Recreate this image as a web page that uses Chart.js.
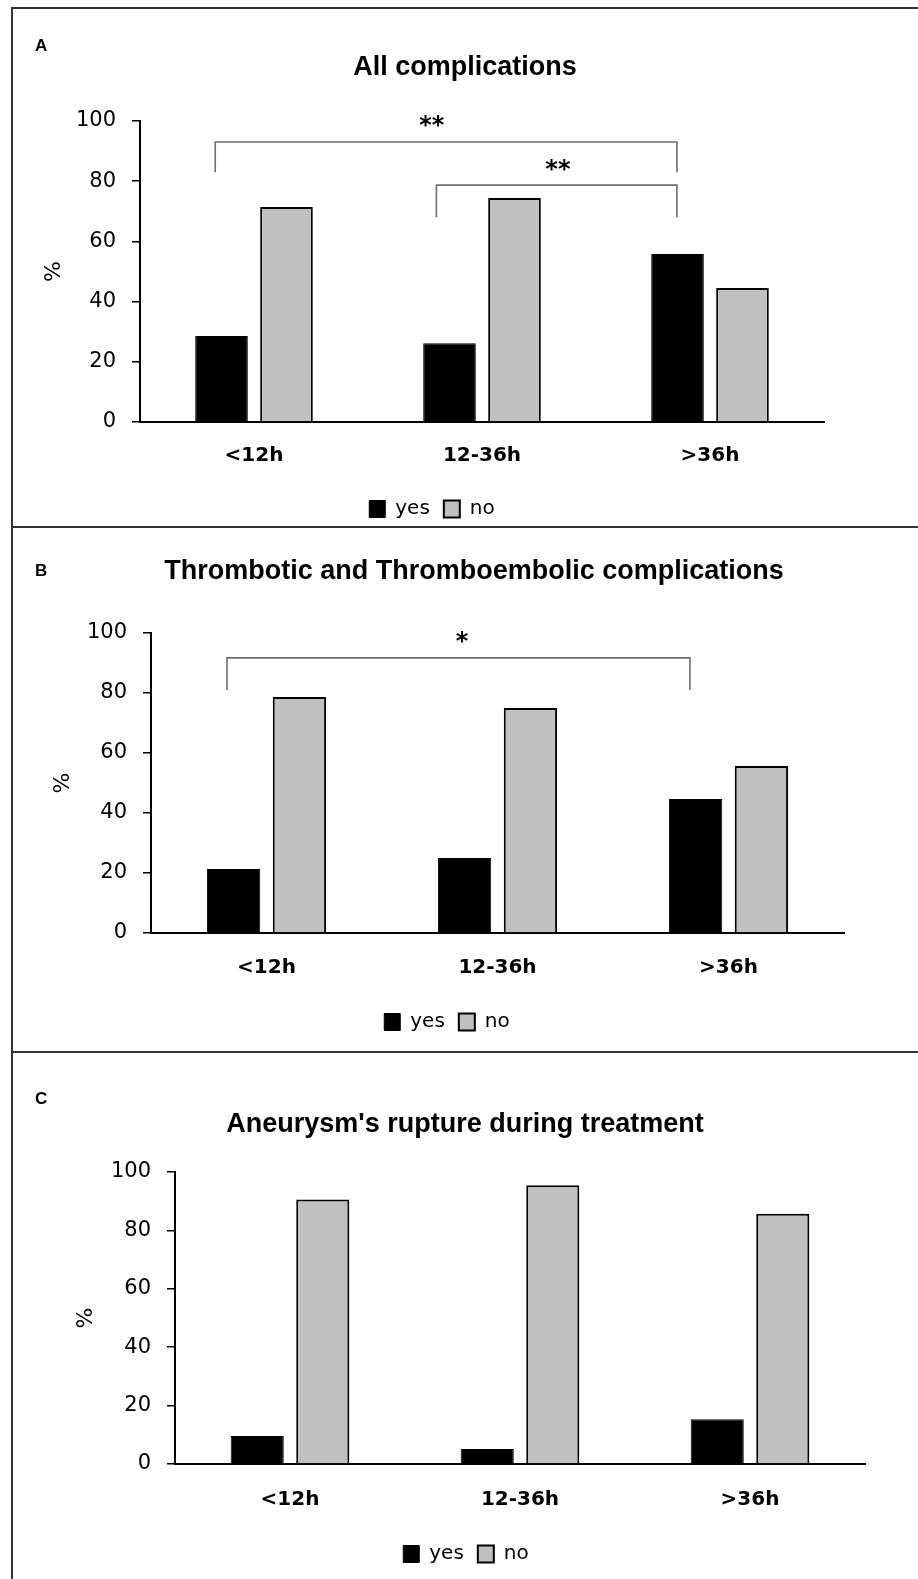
<!DOCTYPE html>
<html><head><meta charset="utf-8">
<script src="https://cdn.jsdelivr.net/npm/chart.js@4.4.0/dist/chart.umd.min.js"></script>
<style>
html,body{margin:0;padding:0;background:#fff;}
#wrap{position:relative;width:918px;height:1579px;overflow:hidden;background:#fff;}
#wrap canvas{position:absolute;left:0;}
.hl{position:absolute;left:12px;width:906px;height:2px;background:#333;}
.vl{position:absolute;left:11px;width:2px;top:7px;height:1572px;background:#333;}
</style></head><body>
<div id="wrap">
<canvas id="cA" width="918" height="530" style="top:0px"></canvas>
<canvas id="cB" width="918" height="524" style="top:528px"></canvas>
<canvas id="cC" width="918" height="527" style="top:1052px"></canvas>
<div class="hl" style="top:7px"></div>
<div class="hl" style="top:526px"></div>
<div class="hl" style="top:1051px"></div>
<div class="vl"></div>
</div>
<script>
// ---- data ----
const categories = ['<12h', '12-36h', '>36h'];
const seriesLabels = ['yes', 'no'];
const yTickValues = [0, 20, 40, 60, 80, 100];

const yesA = [28.6, 26.2, 55.8];
const noA  = [71.4, 74.4, 44.5];
const yesB = [21.3, 25.0, 44.7];
const noB  = [78.7, 75.0, 55.7];
const yesC = [9.6, 5.1, 15.3];
const noC  = [90.6, 95.5, 85.7];

const panelLetters = ['A', 'B', 'C'];
const panelTitles = ['All complications', 'Thrombotic and Thromboembolic complications', "Aneurysm's rupture during treatment"];
const yAxisTitle = '%';

// significance brackets (category index units on x, % units on y)
const bracketsA = [
  {from: -0.17, to: 1.855, top: 93, drop: 83, mark: '**', markX: 0.78, markY: 100},
  {from: 0.80, to: 1.855, top: 78.7, drop: 68, mark: '**', markX: 1.333, markY: 85.4}
];
const bracketsB = [
  {from: -0.171, to: 1.833, top: 91.7, drop: 81, mark: '*', markX: 0.846, markY: 98.7}
];
const bracketsC = [];

// ---- drawing ----
const decoPlugin = {
  id: 'deco',
  afterDraw(chart, args, o) {
    const ctx = chart.ctx, xs = chart.scales.x, ys = chart.scales.y;
    ctx.save();
    ctx.fillStyle = '#000';
    ctx.textBaseline = 'alphabetic';
    ctx.textAlign = 'left';
    ctx.font = 'bold 17px "Liberation Sans", Arial, sans-serif';
    ctx.fillText(o.letter, o.letterX, o.letterY);
    ctx.textAlign = 'center';
    ctx.font = 'bold 27px "Liberation Sans", Arial, sans-serif';
    ctx.fillText(o.title, o.titleX, o.titleY);
    ctx.strokeStyle = '#6e6e6e';
    ctx.lineWidth = 1.6;
    (o.brackets || []).forEach(b => {
      const x1 = xs.getPixelForValue(b.from), x2 = xs.getPixelForValue(b.to);
      const yt = ys.getPixelForValue(b.top), yd = ys.getPixelForValue(b.drop);
      ctx.beginPath();
      ctx.moveTo(x1, yd); ctx.lineTo(x1, yt); ctx.lineTo(x2, yt); ctx.lineTo(x2, yd);
      ctx.stroke();
      ctx.font = 'bold 24px "DejaVu Sans", sans-serif';
      const m = ctx.measureText(b.mark);
      const cy = ys.getPixelForValue(b.markY);
      const base = cy + (m.actualBoundingBoxAscent - m.actualBoundingBoxDescent) / 2;
      ctx.fillText(b.mark, xs.getPixelForValue(b.markX), base);
    });
    ctx.restore();
  }
};

function makeChart(id, yesVals, noVals, p) {
  return new Chart(document.getElementById(id), {
    type: 'bar',
    data: {
      labels: categories,
      datasets: [
        {label: seriesLabels[0], data: yesVals, backgroundColor: '#000000', borderColor: '#000000', borderWidth: 1},
        {label: seriesLabels[1], data: noVals, backgroundColor: '#c0c0c0', borderColor: '#000000', borderWidth: 2}
      ]
    },
    options: {
      responsive: false,
      animation: false,
      devicePixelRatio: 1,
      datasets: {bar: {categoryPercentage: 0.57, barPercentage: 0.81}},
      layout: {padding: {left: p.L, right: p.R, top: p.T, bottom: p.Pb}},
      scales: {
        x: {
          grid: {display: false, drawTicks: false},
          border: {display: true, color: '#000', width: 2},
          ticks: {color: '#000', padding: p.xPad, font: {family: '"DejaVu Sans", sans-serif', size: 20, weight: 'bold'}},
          afterFit: s => { s.height = p.Xh; }
        },
        y: {
          min: 0, max: 100,
          afterBuildTicks: s => { s.ticks = yTickValues.map(v => ({value: v})); },
          grid: {display: true, drawOnChartArea: false, drawTicks: true, tickLength: 8, color: '#000', lineWidth: 1.5},
          border: {display: true, color: '#000', width: 2},
          ticks: {color: '#000', padding: 16, font: {family: '"DejaVu Sans", sans-serif', size: 21}},
          title: {display: true, text: yAxisTitle, color: '#000', padding: {top: p.yTitlePad, bottom: 0}, font: {family: '"DejaVu Sans", sans-serif', size: 22}},
          afterFit: s => { s.width = p.Wy; }
        }
      },
      plugins: {
        legend: {
          display: true, position: 'bottom', align: 'center',
          labels: {color: '#000', boxWidth: 16, boxHeight: 17, padding: 14, font: {family: '"DejaVu Sans", sans-serif', size: 20}}
        },
        tooltip: {enabled: false},
        deco: {letter: p.letter, letterX: 35, letterY: p.letterY, title: p.title, titleX: p.titleX, titleY: p.titleY, brackets: p.brackets}
      }
    },
    plugins: [decoPlugin]
  });
}

makeChart('cA', yesA, noA, {L: 40, R: 94, T: 121, Pb: 1, Wy: 100, Xh: 63, xPad: 22, yTitlePad: 1,
  letter: panelLetters[0], letterY: 51, title: panelTitles[0], titleX: 465, titleY: 75, brackets: bracketsA});
makeChart('cB', yesB, noB, {L: 50, R: 74, T: 105, Pb: 10, Wy: 101, Xh: 65, xPad: 23, yTitlePad: 0,
  letter: panelLetters[1], letterY: 48, title: panelTitles[1], titleX: 474, titleY: 51, brackets: bracketsB});
makeChart('cC', yesC, noC, {L: 67, R: 53, T: 120, Pb: 5, Wy: 108, Xh: 66, xPad: 24, yTitlePad: 6,
  letter: panelLetters[2], letterY: 52, title: panelTitles[2], titleX: 465, titleY: 80, brackets: bracketsC});
</script>
</body></html>
